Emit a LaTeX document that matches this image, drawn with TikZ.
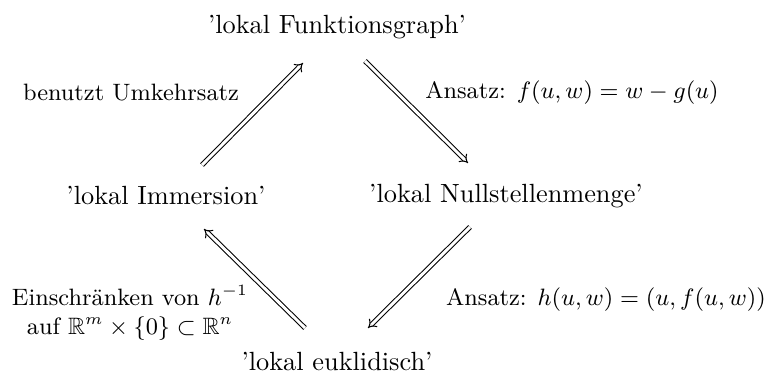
\documentclass[tikz,border=0pt]{standalone}
\usepackage{amsmath,amssymb}
\usetikzlibrary{arrows.meta}
\begin{document}
\begin{tikzpicture}[x=0.38pt,y=-0.38pt,
  obj/.style={inner sep=2pt},
  lbl/.style={inner sep=1pt, align=center, font=\small},
  imp/.style={double, double distance=1.1pt, -{Implies[]}, line width=0.4pt}]
\useasboundingbox (0,0) rectangle (768,379);
\node[obj] (fg) at (337,27) {'lokal Funktionsgraph'};
\node[obj] (im) at (166,196) {'lokal Immersion'};
\node[obj] (ns) at (506,196) {'lokal Nullstellenmenge'};
\node[obj] (eu) at (337,362) {'lokal euklidisch'};
\coordinate (a1s) at (202,165);
\coordinate (a1e) at (303,63);
\coordinate (a2s) at (365,61);
\coordinate (a2e) at (468,163);
\coordinate (a3s) at (470,227);
\coordinate (a3e) at (368,328);
\coordinate (a4s) at (305,328);
\coordinate (a4e) at (204,229);
\draw[imp] (a1s) -- (a1e);
\draw[imp] (a2s) -- (a2e);
\draw[imp] (a3s) -- (a3e);
\draw[imp] (a4s) -- (a4e);
\node[lbl] (l1) at (131,93) {benutzt Umkehrsatz};
\node[lbl] (l2) at (572,93) {Ansatz: $f(u,w)=w-g(u)$};
\node[lbl] (l3) at (606,300) {Ansatz: $h(u,w)=(u,f(u,w))$};
\node[lbl] (l4) at (130,313) {Einschränken von $h^{-1}$\\auf $\mathbb{R}^m\times\{0\}\subset\mathbb{R}^n$};
\end{tikzpicture}
\end{document}
